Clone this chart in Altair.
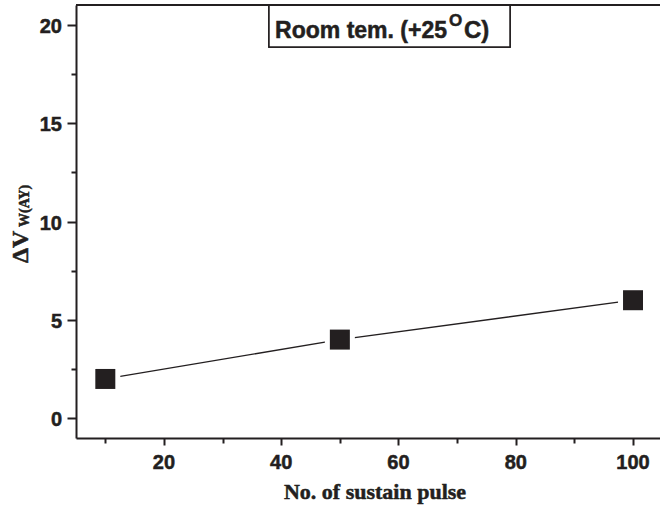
import altair as alt
import pandas as pd

# Measured threshold-voltage shift versus number of sustain pulses
pulses = [10, 50, 100]
delta_vw = [2, 4, 6]

# Axis tick positions
x_major = [20, 40, 60, 80, 100]
x_minor = [10, 30, 50, 70, 90]
y_major = [0, 5, 10, 15, 20]
y_minor = [2.5, 7.5, 12.5, 17.5]

df = pd.DataFrame({"pulse": pulses, "dv": delta_vw})

W, H = 584, 433
INK = "#231f20"
X_DOMAIN = [5, 104.6]
Y_DOMAIN = [-1, 21]
SANS = "Liberation Sans"
SERIF = "Liberation Serif"
HEAVY = dict(stroke=INK, strokeWidth=0.5)  # slightly heavier bold glyphs

x_scale = alt.Scale(domain=X_DOMAIN, nice=False, zero=False)
y_scale = alt.Scale(domain=Y_DOMAIN, nice=False, zero=False)

major_common = dict(
    grid=False, title=None, domain=True, domainColor=INK, domainWidth=2,
    ticks=True, tickColor=INK, tickWidth=2, labels=False,
)
x_axis = alt.Axis(values=x_major, orient="bottom", tickSize=7, **major_common)
y_axis = alt.Axis(values=y_major, orient="left", tickSize=9, **major_common)

x_main = alt.X("pulse:Q", scale=x_scale, axis=x_axis)
y_main = alt.Y("dv:Q", scale=y_scale, axis=y_axis)

base = alt.Chart(df)

line = base.mark_line(color=INK, strokeWidth=1.3).encode(x=x_main, y=y_main)
halo = base.mark_point(shape="square", filled=True, color="white",
                       size=900, opacity=1).encode(x=x_main, y=y_main)
squares = base.mark_point(shape="square", filled=True, color=INK,
                          size=400, opacity=1).encode(x=x_main, y=y_main)

# Bold tick labels placed through the same scales
x_labels = alt.Chart(pd.DataFrame({"v": x_major})).mark_text(
    font=SANS, fontWeight="bold", fontSize=20, color=INK,
    align="center", baseline="alphabetic", **HEAVY,
).encode(
    x=alt.X("v:Q", scale=x_scale, axis=x_axis),
    y=alt.value(H + 31),
    text=alt.Text("v:Q"),
)
y_labels = alt.Chart(pd.DataFrame({"v": y_major})).mark_text(
    font=SANS, fontWeight="bold", fontSize=20, color=INK,
    align="right", baseline="alphabetic", dy=8, **HEAVY,
).encode(
    y=alt.Y("v:Q", scale=y_scale, axis=y_axis),
    x=alt.value(-14),
    text=alt.Text("v:Q"),
)

main = alt.layer(line, halo, squares, x_labels, y_labels)

# Unlabelled minor ticks on both axes
minor_common = dict(grid=False, title=None, domain=False, labels=False,
                    ticks=True, tickColor=INK, tickWidth=2, tickSize=5)
minor = base.mark_point(opacity=0).encode(
    x=alt.X("pulse:Q", scale=x_scale,
            axis=alt.Axis(values=x_minor, orient="bottom", **minor_common)),
    y=alt.Y("dv:Q", scale=y_scale,
            axis=alt.Axis(values=y_minor, orient="left", **minor_common)),
)

# Top frame line
top_rule = alt.Chart(df).mark_rule(color=INK, strokeWidth=2).encode(
    x=alt.value(0), x2=alt.value(W), y=alt.value(0)
)

# Condition label box
box = alt.Chart(df).mark_rect(fill="white", stroke=INK, strokeWidth=1.5).encode(
    x=alt.value(193), x2=alt.value(434), y=alt.value(0), y2=alt.value(42)
)

def label(text, x, y, size, font=SANS, align="left", angle=0):
    return alt.Chart(pd.DataFrame({"t": [text]})).mark_text(
        text=text, font=font, fontWeight="bold", fontSize=size, color=INK,
        align=align, baseline="alphabetic", angle=angle, **HEAVY,
    ).encode(x=alt.value(x), y=alt.value(y))

room_a = label("Room tem. (+25", 371, 33, 23, align="right")
room_o = label("O", 373, 21, 17)
room_c = label("C)", 388, 33, 24)

y_title_main = label("\u0394V", -48, 258, 24, font=SERIF, angle=270)
y_title_sub = label("W(AY)", -47, 222, 14, font=SERIF, angle=270)

x_title = label("No. of sustain pulse", 299, 494, 22, font=SERIF, align="center")

chart = alt.layer(
    main, minor, box, top_rule, room_a, room_o, room_c,
    y_title_main, y_title_sub, x_title,
).resolve_scale(x="independent", y="independent").properties(
    width=W, height=H,
    padding={"left": 76, "top": 5, "right": 0, "bottom": 69},
    autosize=alt.AutoSizeParams(type="none"),
    background="white",
).configure_view(stroke=None)

chart.save("out.html", embed_options={"renderer": "svg", "actions": False})
